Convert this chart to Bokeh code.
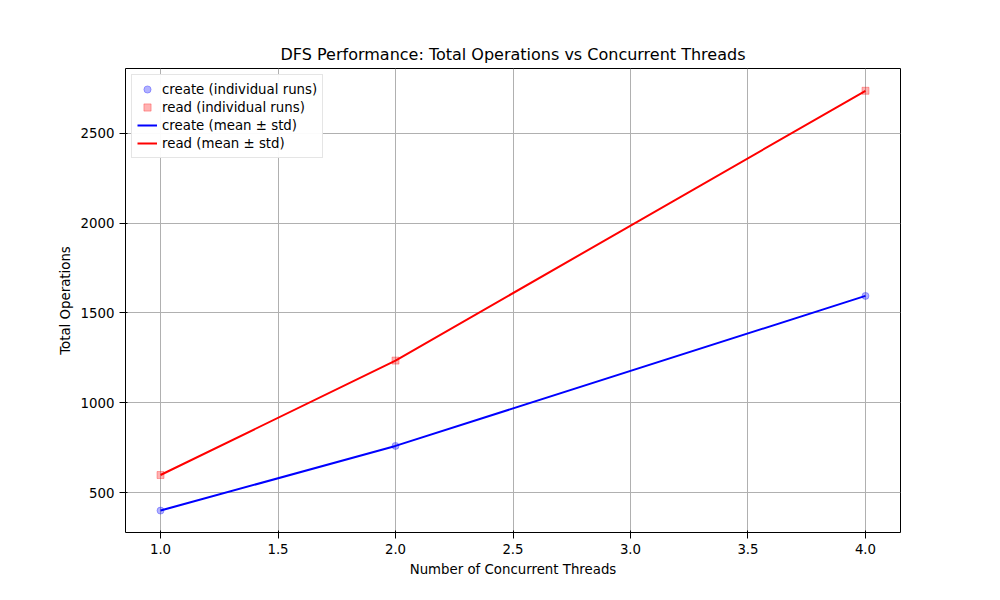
from bokeh.plotting import figure
from bokeh.models import Range1d, Legend, LegendItem, FixedTicker
from bokeh.embed import file_html
from bokeh.resources import INLINE

threads = [1, 2, 4]
create_ops = [400, 760, 1595]
read_ops = [598, 1235, 2737]

p = figure(width=984, height=584, output_backend="svg", toolbar_location=None,
           title="DFS Performance: Total Operations vs Concurrent Threads",
           x_range=Range1d(0.851, 4.149), y_range=Range1d(278, 2861),
           min_border_left=125, min_border_right=84, min_border_top=68, min_border_bottom=52)
p.title.align = "center"
p.title.text_font = "DejaVu Sans"
p.title.text_font_size = "12pt"
p.title.text_font_style = "normal"
p.title.text_color = "black"
p.outline_line_color = "black"
p.xaxis.axis_label = "Number of Concurrent Threads"
p.yaxis.axis_label = "Total Operations"
for ax in (p.xaxis, p.yaxis):
    ax.axis_label_text_font = "DejaVu Sans"
    ax.axis_label_text_font_style = "normal"
    ax.axis_label_text_font_size = "10pt"
    ax.axis_label_text_color = "black"
    ax.major_label_text_font = "DejaVu Sans"
    ax.major_label_text_font_size = "10pt"
    ax.major_label_text_color = "black"
    ax.major_tick_line_color = "black"
    ax.minor_tick_line_color = None
    ax.axis_line_color = None
p.xaxis.ticker = FixedTicker(ticks=[1.0, 1.5, 2.0, 2.5, 3.0, 3.5, 4.0])
p.xaxis.major_label_overrides = {1.0: "1.0", 2.0: "2.0", 3.0: "3.0", 4.0: "4.0"}
p.yaxis.ticker = FixedTicker(ticks=[500, 1000, 1500, 2000, 2500])
p.grid.grid_line_color = "#b0b0b0"
p.grid.grid_line_alpha = 1.0

cl = p.line(threads, create_ops, line_color="blue", line_width=2)
rl = p.line(threads, read_ops, line_color="red", line_width=2)
cs = p.scatter(threads, create_ops, marker="circle", size=7, fill_color="blue",
               fill_alpha=0.3, line_color="blue", line_alpha=0.3)
rs = p.scatter(threads, read_ops, marker="square", size=7, fill_color="red",
               fill_alpha=0.3, line_color="red", line_alpha=0.3)

legend = Legend(items=[
    LegendItem(label="create (individual runs)", renderers=[cs]),
    LegendItem(label="read (individual runs)", renderers=[rs]),
    LegendItem(label="create (mean ± std)", renderers=[cl]),
    LegendItem(label="read (mean ± std)", renderers=[rl]),
], location="top_left")
legend.label_text_font = "DejaVu Sans"
legend.label_text_font_size = "10pt"
legend.label_text_color = "black"
legend.border_line_color = "#cccccc"
legend.spacing = 0
legend.padding = 5
legend.margin = 6
legend.glyph_height = 18
legend.label_height = 18
p.add_layout(legend)

open("out.html", "w").write(file_html(p, INLINE))
